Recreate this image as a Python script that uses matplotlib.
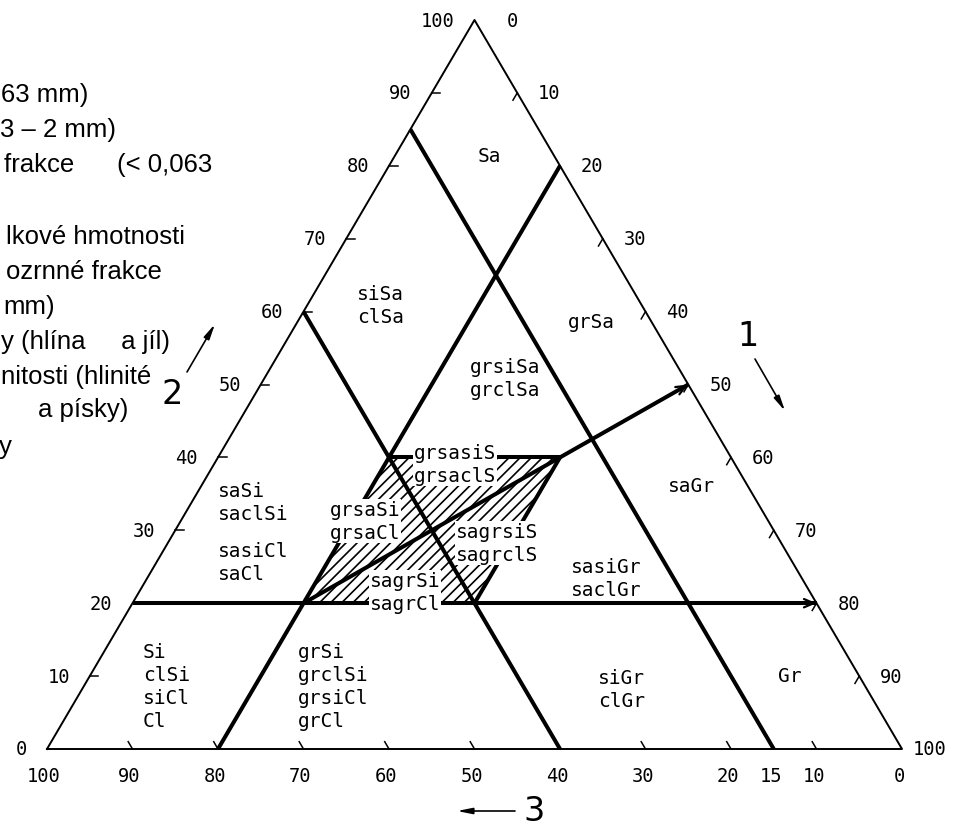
import numpy as np
import matplotlib.pyplot as plt
from matplotlib.patches import Polygon

plt.rcParams['font.family'] = 'DejaVu Sans Mono'
plt.rcParams['hatch.linewidth'] = 1.2

# axis 2 = sand (left edge), axis 1 = gravel (right edge), axis 3 = fines (bottom)
left_vals = [0, 10, 20, 30, 40, 50, 60, 70, 80, 90, 100]
right_vals = [0, 10, 20, 30, 40, 50, 60, 70, 80, 90, 100]
bottom_vals = [100, 90, 80, 70, 60, 50, 40, 30, 20, 15, 10, 0]
tick_vals = [10, 20, 30, 40, 50, 60, 70, 80, 90]

# class boundaries, (sand, gravel) at both ends
fines15_sand, fines15_gravel = [0, 85], [85, 0]
fines40_sand, fines40_gravel = [0, 60], [60, 0]
gravel20_sand, gravel20_gravel = [0, 80], [20, 20]
sand20_sand, sand20_gravel = [20, 20], [0, 80]
ratio_sand, ratio_gravel = [20, 50], [20, 50]
# hatched transition zone
zone_sand = [20, 40, 40, 20]
zone_gravel = [20, 20, 40, 40]
zone_top_sand, zone_top_gravel = [40, 40], [20, 40]
zone_right_sand, zone_right_gravel = [40, 20], [40, 40]

# soil names (text, x px, y px, white box)
names = [
    ("Sa", 478, 157, False),
    ("siSa\nclSa", 357, 306, False),
    ("grSa", 568, 323, False),
    ("grsiSa\ngrclSa", 470, 379, False),
    ("grsasiS\ngrsaclS", 414, 465, True),
    ("saSi\nsaclSi", 218, 503, False),
    ("sasiCl\nsaCl", 218, 563, False),
    ("grsaSi\ngrsaCl", 330, 522, True),
    ("sagrsiS\nsagrclS", 456, 544, True),
    ("sagrSi\nsagrCl", 370, 593, True),
    ("saGr", 668, 487, False),
    ("sasiGr\nsaclGr", 571, 579, False),
    ("Si\nclSi\nsiCl\nCl", 143, 687, False),
    ("grSi\ngrclSi\ngrsiCl\ngrCl", 298, 687, False),
    ("siGr\nclGr", 598, 690, False),
    ("Gr", 778, 677, False),
]

# visible part of the Czech legend at the left border (text, right end px, y px)
legend = [
    ("63 mm)", 88, 95),
    ("3 – 2 mm)", 116, 130),
    ("frakce      (< 0,063", 212, 165),
    ("lkové hmotnosti", 185, 237),
    ("ozrnné frakce", 162, 272),
    ("mm)", 55, 307),
    ("y (hlína     a jíl)", 170, 342),
    ("nitosti (hlinité", 151, 377),
    ("a písky)", 128, 410),
    ("y", 12, 447),
]


def tern(sand, gravel):
    sand = np.asarray(sand, float)
    gravel = np.asarray(gravel, float)
    return gravel + sand / 2, sand


def px(x, y):
    return (x - 47) / 8.55, (750 - y) / 7.29


fig = plt.figure(figsize=(9.54, 8.29), dpi=100)
ax = fig.add_axes([0, 0, 1, 1])
ax.set_xlim(px(0, 0)[0], px(954, 0)[0])
ax.set_ylim(px(0, 829)[1], px(0, 0)[1])
ax.axis('off')

# outline
ax.plot(*tern([0, 0, 100, 0], [0, 100, 0, 0]), color='k', lw=1.4)

# hatched zone
zx, zy = tern(zone_sand, zone_gravel)
ax.add_patch(Polygon(np.column_stack([zx, zy]), closed=True, facecolor='none',
                     edgecolor='k', lw=0, hatch='///'))

thick = dict(color='k', lw=2.9, solid_capstyle='butt')
for s, g in [(fines15_sand, fines15_gravel), (fines40_sand, fines40_gravel),
             (gravel20_sand, gravel20_gravel), (sand20_sand, sand20_gravel),
             (ratio_sand, ratio_gravel), (zone_top_sand, zone_top_gravel),
             (zone_right_sand, zone_right_gravel)]:
    ax.plot(*tern(s, g), **thick)

# arrow heads at the right edge
for s, g in [(sand20_sand, sand20_gravel), (ratio_sand, ratio_gravel)]:
    x, y = tern(s, g)
    ax.annotate('', xy=(x[1], y[1]), xytext=(x[1] - (x[1] - x[0]) * 0.05, y[1] - (y[1] - y[0]) * 0.05),
                arrowprops=dict(arrowstyle='->,head_length=0.7,head_width=0.3', lw=1.6,
                                color='k', shrinkA=0, shrinkB=0))

# ticks
tl = 1.0
for v in tick_vals:
    ax.plot(*tern([v, v], [0, tl]), color='k', lw=1.1)
    ax.plot(*tern([100 - v, 100 - v - tl], [v, v]), color='k', lw=1.1)
    ax.plot(*tern([0, tl], [100 - v, 100 - v - tl]), color='k', lw=1.1)

# tick labels
fs_num = 13.5
for v in left_vals:
    x, y = tern(v, 0)
    ax.text(x - 20 / 8.55, y, str(v), ha='right', va='center', fontsize=fs_num)
right_off = [32, 21, 21, 21, 21, 21, 21, 21, 21, 21, 11]
for v, off in zip(right_vals, right_off):
    x, y = tern(100 - v, v)
    ax.text(x + off / 8.55, y, str(v), ha='left', va='center', fontsize=fs_num)
yb = px(0, 777)[1]
for v in bottom_vals:
    x, y = tern(0, 100 - v)
    ax.text(x - 3 / 8.55, yb, str(v), ha='center', va='center', fontsize=fs_num)

# soil names
for txt, x, y, boxed in names:
    kw = dict(bbox=dict(facecolor='white', edgecolor='none', pad=0.5)) if boxed else {}
    ax.text(*px(x, y), txt, ha='left', va='center', fontsize=14, linespacing=1.25, **kw)

# axis numbers with arrows
arr = dict(arrowstyle='-|>,head_length=0.9,head_width=0.18', lw=1.2, color='k',
           shrinkA=0, shrinkB=0)
ax.annotate('', xy=px(785, 412), xytext=px(755, 360), arrowprops=arr)
ax.text(*px(748, 337), '1', ha='center', va='center', fontsize=24, fontfamily='DejaVu Sans')
ax.annotate('', xy=px(215, 325), xytext=px(187, 373), arrowprops=arr)
ax.text(*px(172, 395), '2', ha='center', va='center', fontsize=24, fontfamily='DejaVu Sans')
ax.annotate('', xy=px(457, 812), xytext=px(515, 812), arrowprops=arr)
ax.text(*px(534, 812), '3', ha='center', va='center', fontsize=24, fontfamily='DejaVu Sans')

# legend fragment
for txt, xr, y in legend:
    ax.text(*px(xr, y), txt, ha='right', va='center', fontsize=18.5,
            fontfamily='Liberation Sans')

fig.savefig('out.png', dpi=100)
